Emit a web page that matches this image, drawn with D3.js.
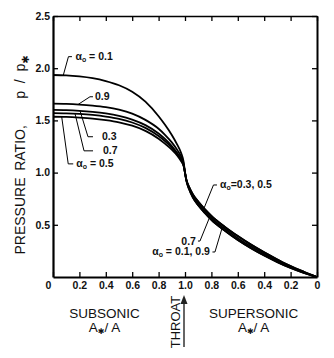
<!DOCTYPE html>
<html>
<head>
<meta charset="utf-8">
<script src="https://cdn.jsdelivr.net/npm/d3@7"></script>
<style>
  body { margin: 0; background: #fff; }
  svg { display: block; font-family: "Liberation Sans", Arial, Helvetica, sans-serif; }
  .axis path, .axis line { stroke: #000; }
  .axis text { font-size: 10.5px; font-weight: bold; fill: #111; }
</style>
</head>
<body>
<svg id="chart" width="334" height="358"></svg>
<script>
// area ratio A*/A: subsonic branch runs 0 -> 1, supersonic branch is laid out as 1 -> 2 (i.e. 2 - A*/A)
const subX = [0, 0.1, 0.2, 0.3, 0.4, 0.5, 0.6, 0.7, 0.8, 0.85, 0.9, 0.94, 0.97, 0.99, 1.0];
const subA01 = [1.935, 1.932, 1.922, 1.905, 1.877, 1.837, 1.775, 1.68, 1.54, 1.455, 1.36, 1.27, 1.19, 1.10, 1.0];
const subA09 = [1.66, 1.658, 1.652, 1.642, 1.627, 1.603, 1.565, 1.505, 1.42, 1.36, 1.29, 1.22, 1.155, 1.08, 1.0];
const subA03 = [1.60, 1.598, 1.592, 1.582, 1.567, 1.544, 1.508, 1.455, 1.375, 1.32, 1.255, 1.19, 1.13, 1.07, 1.0];
const subA07 = [1.57, 1.568, 1.562, 1.552, 1.537, 1.515, 1.48, 1.428, 1.35, 1.30, 1.24, 1.18, 1.12, 1.065, 1.0];
const subA05 = [1.535, 1.533, 1.527, 1.518, 1.503, 1.482, 1.449, 1.40, 1.325, 1.275, 1.22, 1.165, 1.11, 1.06, 1.0];

const supX = [1.0, 1.01, 1.03, 1.06, 1.1, 1.15, 1.2, 1.3, 1.4, 1.5, 1.6, 1.7, 1.8, 1.9, 2.0];
const supA35 = [1.0, 0.935, 0.865, 0.79, 0.722, 0.65, 0.585, 0.482, 0.392, 0.31, 0.236, 0.168, 0.104, 0.05, 0]; // alpha 0.3, 0.5
const supA07 = [1.0, 0.93, 0.855, 0.775, 0.705, 0.632, 0.565, 0.462, 0.372, 0.292, 0.22, 0.155, 0.095, 0.045, 0];
const supA19 = [1.0, 0.925, 0.845, 0.76, 0.688, 0.614, 0.547, 0.444, 0.354, 0.276, 0.206, 0.143, 0.087, 0.04, 0]; // alpha 0.1, 0.9

const xTicks = [0, 0.2, 0.4, 0.6, 0.8, 1.0, 1.2, 1.4, 1.6, 1.8, 2.0];
const xTickLabels = ['0', '0.2', '0.4', '0.6', '0.8', '1.0', '0.8', '0.6', '0.4', '0.2', '0'];
const yTicks = [0.5, 1.0, 1.5, 2.0, 2.5];
const yTickLabels = ['0.5', '1.0', '1.5', '2.0', '2.5'];

const curves = [
  { alpha: '0.1', sub: subA01, sup: supA19 },
  { alpha: '0.9', sub: subA09, sup: supA19 },
  { alpha: '0.3', sub: subA03, sup: supA35 },
  { alpha: '0.7', sub: subA07, sup: supA07 },
  { alpha: '0.5', sub: subA05, sup: supA35 }
];

const svg = d3.select('#chart');
const margin = { top: 16, right: 17, bottom: 81, left: 53 };
const W = 334, H = 358;

const x = d3.scaleLinear().domain([0, 2]).range([margin.left, W - margin.right]);
const y = d3.scaleLinear().domain([0, 2.5]).range([H - margin.bottom, margin.top]);

// frame with inward ticks on all four sides
svg.append('g').attr('class', 'axis')
  .attr('transform', `translate(0,${y(0)})`)
  .call(d3.axisBottom(x).tickValues(xTicks).tickSize(-5).tickSizeOuter(0).tickPadding(5)
    .tickFormat((d, i) => xTickLabels[i]))
  .call(g => g.select('.domain').attr('stroke-width', 2.2))
  .call(g => g.selectAll('.tick line').attr('stroke-width', 1.3))
  .call(g => g.selectAll('.tick text').filter((d, i) => i === 0).attr('dx', -5));

svg.append('g').attr('class', 'axis')
  .attr('transform', `translate(${x(0)},0)`)
  .call(d3.axisLeft(y).tickValues(yTicks).tickSize(-5).tickSizeOuter(0).tickPadding(3)
    .tickFormat((d, i) => yTickLabels[i]))
  .call(g => g.select('.domain').attr('stroke-width', 2.2))
  .call(g => g.selectAll('.tick line').attr('stroke-width', 1.3));

svg.append('g').attr('class', 'axis')
  .attr('transform', `translate(0,${y(2.5)})`)
  .call(d3.axisTop(x).tickValues(xTicks).tickSize(-5).tickSizeOuter(0).tickFormat(''))
  .call(g => g.select('.domain').attr('stroke-width', 1.6))
  .call(g => g.selectAll('.tick line').attr('stroke-width', 1.3));

svg.append('g').attr('class', 'axis')
  .attr('transform', `translate(${x(2)},0)`)
  .call(d3.axisRight(y).tickValues(yTicks).tickSize(-5).tickSizeOuter(0).tickFormat(''))
  .call(g => g.select('.domain').attr('stroke-width', 2))
  .call(g => g.selectAll('.tick line').attr('stroke-width', 1.3));

// pressure ratio curves
const line = d3.line()
  .x(d => x(d[0]))
  .y(d => y(d[1]))
  .curve(d3.curveMonotoneX);

svg.append('g').selectAll('path')
  .data(curves)
  .enter()
  .append('path')
  .attr('fill', 'none')
  .attr('stroke', '#000')
  .attr('stroke-width', 1.8)
  .attr('d', c => line(subX.map((u, i) => [u, c.sub[i]]).concat(supX.slice(1).map((u, i) => [u, c.sup[i + 1]]))));

function valueAt(us, vs, u) {
  const i = Math.min(d3.bisectRight(us, u) - 1, us.length - 2);
  const t = (u - us[i]) / (us[i + 1] - us[i]);
  return vs[i] + t * (vs[i + 1] - vs[i]);
}

// curve labels with leader hooks
const labels = [
  { pre: true, text: ' = 0.1', at: [0.170, 2.077], anchor: 'start', hook: [[-3.5, -3.5], [-7, -3.5]], us: subX, vs: subA01, u: 0.078 },
  { pre: false, text: '0.9', at: [0.318, 1.693], anchor: 'start', hook: [[-2, -3.5], [-5, -3.5]], us: subX, vs: subA09, u: 0.19 },
  { pre: false, text: '0.3', at: [0.371, 1.310], anchor: 'start', hook: [[-9, -3.5], [-14, -3.5]], us: subX, vs: subA03, u: 0.205 },
  { pre: false, text: '0.7', at: [0.379, 1.175], anchor: 'start', hook: [[-10, -3.5], [-19, -3.5]], us: subX, vs: subA07, u: 0.167 },
  { pre: true, text: ' = 0.5', at: [0.176, 1.050], anchor: 'start', hook: [[-3, -3.5], [-8, -3.5]], us: subX, vs: subA05, u: 0.066 },
  { pre: true, text: '=0.3, 0.5', at: [1.265, 0.848], anchor: 'start', hook: [[-3, -3.5], [-6.5, -3.5]], us: supX, vs: supA35, u: 1.144 },
  { pre: false, text: '0.7', at: [1.083, 0.311], anchor: 'end', hook: [[2, -3.5], [4, -3.5]], us: supX, vs: supA07, u: 1.189 },
  { pre: true, text: ' = 0.1, 0.9', at: [1.189, 0.206], anchor: 'end', hook: [[2.5, -3.5], [5, -3.5]], us: supX, vs: supA19, u: 1.28 }
];

const lab = svg.append('g').attr('font-size', 10.5).attr('font-weight', 'bold').attr('fill', '#111');

labels.forEach(l => {
  const tx = x(l.at[0]), ty = y(l.at[1]);
  const pts = l.hook.map(h => [tx + h[0], ty + h[1]]);
  pts.push([x(l.u), y(valueAt(l.us, l.vs, l.u))]);
  lab.append('path')
    .attr('fill', 'none')
    .attr('stroke', '#000')
    .attr('stroke-width', 1)
    .attr('d', d3.line()(pts));
  const t = lab.append('text').attr('x', tx).attr('y', ty).attr('text-anchor', l.anchor);
  if (l.pre) {
    t.append('tspan').text('\u03b1');
    t.append('tspan').attr('font-size', 7).attr('dy', 2).text('o');
    t.append('tspan').attr('dy', -2).attr('xml:space', 'preserve').text(l.text);
  } else {
    t.text(l.text);
  }
});

// axis titles
const title = svg.append('g').attr('fill', '#111');

const yTitle = [['PRESSURE', 216], ['RATIO,', 148]];
yTitle.forEach(d => {
  title.append('text')
    .attr('transform', `translate(25,${d[1]}) rotate(-90)`)
    .attr('text-anchor', 'middle')
    .attr('font-size', 14)
    .text(d[0]);
});
const pp = title.append('text')
  .attr('transform', 'translate(25,77) rotate(-90)')
  .attr('text-anchor', 'middle')
  .attr('font-size', 14)
  .attr('xml:space', 'preserve');
pp.append('tspan').text('p  /  p');
pp.append('tspan').attr('font-size', 10).attr('dy', 4).attr('font-family', 'DejaVu Sans').text('\u2731');

function branchLabel(cx, name) {
  title.append('text')
    .attr('x', cx).attr('y', 318)
    .attr('text-anchor', 'middle')
    .attr('font-size', 13.5)
    .text(name);
  const t = title.append('text')
    .attr('x', cx).attr('y', 332)
    .attr('text-anchor', 'middle')
    .attr('font-size', 13.5)
    .attr('xml:space', 'preserve');
  t.append('tspan').text('A');
  t.append('tspan').attr('font-size', 8).attr('dy', 2).attr('font-family', 'DejaVu Sans').text('\u2731');
  t.append('tspan').attr('dy', -2).text('/ A');
}
branchLabel(x(0.39), 'SUBSONIC');
branchLabel(x(1.52), 'SUPERSONIC');

// throat marker
title.append('text')
  .attr('transform', `translate(${x(1) - 5},322) rotate(-90)`)
  .attr('text-anchor', 'middle')
  .attr('font-size', 13)
  .text('THROAT');
title.append('line')
  .attr('x1', x(1) - 1).attr('x2', x(1) - 1)
  .attr('y1', 347).attr('y2', 303)
  .attr('stroke', '#333').attr('stroke-width', 1.5);
title.append('path')
  .attr('d', d3.line()([[x(1) - 4.5, 304], [x(1) - 1, 295], [x(1) + 2.5, 304]]) + 'Z')
  .attr('fill', '#222');
</script>
</body>
</html>
